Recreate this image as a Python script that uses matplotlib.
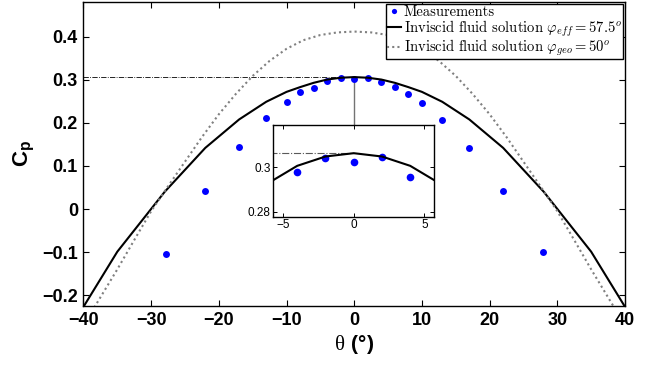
import matplotlib
matplotlib.use('Agg')
import matplotlib.pyplot as plt

# measured pressure coefficient
theta_meas = [-27.8, -22, -17, -13, -10, -8, -6, -4, -2, 0, 2, 4, 6, 8, 10, 13, 17, 22, 27.9]
cp_meas = [-0.105, 0.043, 0.145, 0.212, 0.249, 0.271, 0.281, 0.2976, 0.3041, 0.3025,
           0.3046, 0.2955, 0.283, 0.266, 0.245, 0.206, 0.1415, 0.042, -0.100]

# inviscid solution, effective angle
theta_eff = [-40, -35, -28, -22, -17, -13, -10, -8, -6, -4, -2, 0,
             2, 4, 6, 8, 10, 13, 17, 22, 28, 35, 40]
cp_eff = [-0.227, -0.099, 0.040, 0.142, 0.208, 0.249, 0.272, 0.283, 0.293, 0.3006, 0.3048, 0.3063,
          0.3048, 0.3006, 0.293, 0.283, 0.272, 0.249, 0.208, 0.142, 0.040, -0.099, -0.227]

# inviscid solution, geometric angle
theta_geo = [-40, -37.5, -35, -32.5, -30, -27.5, -25, -22.5, -20, -17.5, -15, -12.5, -10, -7.5, -5, -2.5, 0,
             2.5, 5, 7.5, 10, 12.5, 15, 17.5, 20, 22.5, 25, 27.5, 30, 32.5, 35, 37.5, 40]
cp_geo = [-0.27, -0.205, -0.14, -0.072, -0.005, 0.053, 0.110, 0.167, 0.220, 0.267, 0.309, 0.344, 0.372,
          0.392, 0.404, 0.410, 0.412,
          0.410, 0.404, 0.392, 0.372, 0.344, 0.309, 0.267, 0.220, 0.167, 0.110, 0.053, -0.005, -0.072,
          -0.14, -0.205, -0.27]

cp_peak = 0.3063

plt.rcParams['mathtext.fontset'] = 'custom'
plt.rcParams['mathtext.rm'] = 'Liberation Serif'
plt.rcParams['mathtext.bf'] = 'Liberation Sans:bold'
plt.rcParams['font.family'] = 'Liberation Sans'

fig = plt.figure(figsize=(6.52, 3.66), dpi=100)
ax = fig.add_axes([0.128, 0.164, 0.8306, 0.831])

ax.plot([-40, 0], [cp_peak, cp_peak], color='black', lw=0.6, ls='-.')
ax.plot([0, 0], [cp_peak, 0.19], color='0.45', lw=1.0)
ax.plot(theta_meas, cp_meas, 'o', color='blue', ms=5, mec='none', label='Measurements')
ax.plot(theta_eff, cp_eff, color='black', lw=1.5,
        label=r'Inviscid fluid solution $\varphi_{eff} = 57.5^o$')
ax.plot(theta_geo, cp_geo, color='0.5', lw=1.5, ls=(0, (1, 1.5)),
        label=r'Inviscid fluid solution $\varphi_{geo} = 50^o$')

ax.set_xlim(-40, 40)
ax.set_ylim(-0.225, 0.481)
ax.set_xticks(range(-40, 41, 10))
ax.set_yticks([-0.2, -0.1, 0, 0.1, 0.2, 0.3, 0.4])
ax.set_yticklabels(['\u22120.2', '\u22120.1', '0', '0.1', '0.2', '0.3', '0.4'])
ax.tick_params(direction='in', top=True, right=True, length=4, width=0.8, pad=4,
               labelsize=13)
for lab in ax.get_xticklabels() + ax.get_yticklabels():
    lab.set_fontweight('bold')
for s in ax.spines.values():
    s.set_linewidth(1.0)

ax.set_xlabel(r'$\mathrm{θ}\ \mathbf{(°)}$', fontsize=15, labelpad=3)
ax.set_ylabel(r'$\mathbf{C_p}$', fontsize=16, labelpad=4)

leg = ax.legend(loc='upper right', borderaxespad=0.15, fancybox=False, framealpha=1,
                edgecolor='black', labelspacing=-0.05, borderpad=0.08, handlelength=1.0,
                handletextpad=0.15, markerscale=0.75,
                prop={'family': 'cmr10', 'size': 10.5, 'math_fontfamily': 'cm'})
leg.get_frame().set_linewidth(1.0)

# inset zoom around the stagnation region
ins = fig.add_axes([0.419, 0.408, 0.247, 0.2505])
ins.plot([-40, 0], [cp_peak, cp_peak], color='0.35', lw=0.8, ls='-.')
ins.plot(theta_meas, cp_meas, 'o', color='blue', ms=5.5, mec='none')
ins.plot(theta_eff, cp_eff, color='black', lw=1.5)
ins.plot(theta_geo, cp_geo, color='0.5', lw=1.5, ls=(0, (1, 1.5)))
ins.set_xlim(-5.7, 5.7)
ins.set_ylim(0.2777, 0.319)
ins.set_xticks([-5, 0, 5])
ins.set_xticklabels(['\u22125', '0', '5'])
ins.set_yticks([0.28, 0.3])
ins.set_yticklabels(['0.28', '0.3'])
ins.tick_params(direction='in', top=True, right=True, length=3, width=0.7, pad=2,
                labelsize=8.5)
for s in ins.spines.values():
    s.set_linewidth(1.0)

fig.savefig('out.png', dpi=100)
